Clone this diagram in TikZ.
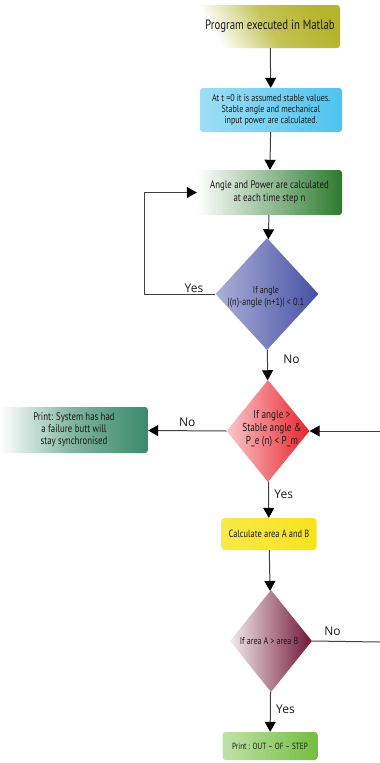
\documentclass[tikz,border=0pt]{standalone}
\usepackage{fontspec}
\setsansfont{PT Sans}[FakeStretch=0.8]
\newfontfamily\labelfont{Open Sans}
\usetikzlibrary{shapes.geometric,arrows.meta}
\definecolor{matlabcol}{HTML}{B5B42C}
\definecolor{initcol}{HTML}{4FC3EE}
\definecolor{stepcol}{HTML}{2C7A2E}
\definecolor{checkcol}{HTML}{4650A6}
\definecolor{stablecol}{HTML}{E8232C}
\definecolor{failcol}{HTML}{3A8A6C}
\definecolor{areacol}{HTML}{F7E31C}
\definecolor{comparecol}{HTML}{701535}
\definecolor{outcol}{HTML}{74BE3E}
\tikzset{
  stepbox/.style={rounded corners=3pt, align=center, inner sep=1pt, text=black!90,
    font=\sffamily\fontsize{10}{11}\selectfont},
  decision/.style={diamond, inner sep=0pt},
  dtext/.style={align=center, inner sep=0pt, text=black!90,
    font=\sffamily\fontsize{10}{11}\selectfont},
  flow/.style={draw=black!75, line width=1pt, -{Triangle[length=10pt,width=11pt,color=black]}},
  branch/.style={font=\labelfont\fontsize{12}{13}\selectfont, text=black!90}
}
\begin{document}
\begin{tikzpicture}[x=1pt,y=-1pt]
\useasboundingbox (0,0) rectangle (380,763);
\node[stepbox, minimum width=140, minimum height=43, left color=white, right color=matlabcol,
  middle color=matlabcol!80!white, shading angle=120,
  font=\sffamily\fontsize{13.5}{15}\selectfont] (matlab) at (270,26.5) {Program executed in Matlab};
\node[stepbox, minimum width=142, minimum height=44, left color=initcol!55!white, right color=initcol]
  (init) at (271,110) {At t =0 it is assumed stable values.\\Stable angle and mechanical\\input power are calculated.};
\node[stepbox, minimum width=145, minimum height=45, left color=white, right color=stepcol,
  font=\sffamily\fontsize{11}{13}\selectfont] (step) at (269.5,192.5) {Angle and Power are calculated\\at each time step n};
\node[decision, minimum width=103, minimum height=112, left color=checkcol!45!white, right color=checkcol] (check) at (267,294) {};
\node[dtext] (checktext) at (266,297) {If angle\\[1pt]{\fontsize{10.5}{11}\selectfont |(n)-angle (n+1)| < 0.1}};
\node[decision, minimum width=83, minimum height=102, left color=stablecol!25!white, right color=stablecol] (stable) at (268,431) {};
\node[dtext, font=\sffamily\fontsize{11.5}{13}\selectfont] (stabletext) at (272,429) {If angle >\\Stable angle \&\\P\_e (n) < P\_m};
\node[stepbox, minimum width=148, minimum height=46, left color=white, right color=failcol,
  middle color=failcol!65!white, font=\sffamily\fontsize{11}{12}\selectfont] (fail) at (74,430) {Print: System has had\\a failure butt will\\stay synchronised};
\node[stepbox, minimum width=95, minimum height=32, left color=areacol!80!white, right color=areacol,
  font=\sffamily\fontsize{10.5}{12}\selectfont] (area) at (269,534) {Calculate area A and B};
\node[decision, minimum width=82, minimum height=102, left color=comparecol!8!white, right color=comparecol] (compare) at (271,641) {};
\node[dtext, font=\sffamily\fontsize{10}{11}\selectfont] (comparetext) at (269,641) {If area A > area B};
\node[stepbox, minimum width=95, minimum height=28, left color=outcol!45!white, right color=outcol,
  font=\sffamily\fontsize{9}{10}\selectfont] (out) at (270,746) {Print : OUT -- OF -- STEP};
\coordinate (rightin) at (380,431);
\coordinate (rightout) at (380,642);
\draw[flow] (matlab) -- (init);
\draw[flow] (init) -- (step);
\draw[flow] (step) -- (check);
\draw[flow] (check.west) -- node[branch, pos=0.3, above=-2pt] {Yes} ++(-71,0) |- (step.west);
\draw[flow] (check) -- node[branch, pos=0.3, right=12pt] {No} (stable);
\draw[flow] (stable.west) -- node[branch, above=0pt] {No} (fail);
\draw[flow] (rightin) -- (stable.east);
\draw[flow] (stable) -- node[branch, pos=0.35, right=2pt] {Yes} (area);
\draw[flow] (area) -- (compare);
\draw[draw=black!75, line width=1pt] (compare.east) -- node[branch, pos=0.3, above=2pt] {No} (rightout);
\draw[flow] (compare) -- node[branch, pos=0.45, right=2pt] {Yes} (out);
\end{tikzpicture}
\end{document}
